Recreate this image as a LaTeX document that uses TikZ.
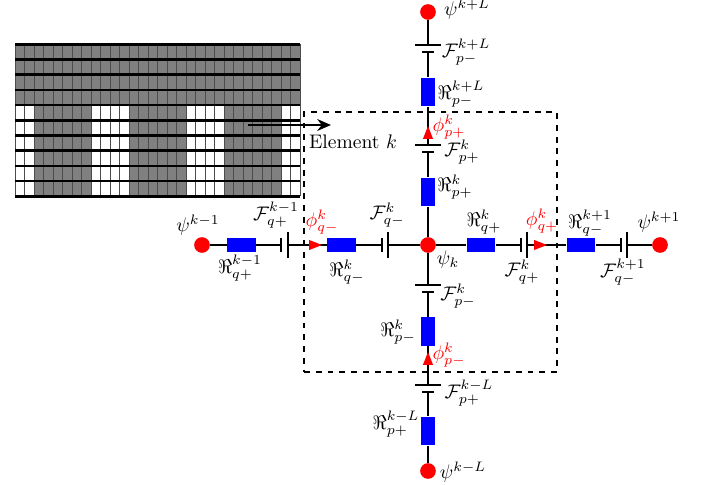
\documentclass[tikz,border=0pt]{standalone}
\usepackage{amsmath}
\usepackage{tikz}
\usetikzlibrary{arrows.meta,shapes.geometric}

\begin{document}
\begin{tikzpicture}[x=0.51pt, y=-0.51pt, >=stealth, every edge/.style={draw,solid,line width=1pt},
                    dot/.style={circle,fill=red,inner sep=0pt,minimum size=8pt},
                    reshor/.style={rectangle,fill=blue,inner sep=0pt,minimum width=14.6pt,minimum height=7.6pt},
                    resver/.style={rectangle,fill=blue,inner sep=0pt,minimum width=7.6pt,minimum height=14.6pt},
                    platev/.style={rectangle,fill=black,inner sep=0pt,minimum width=1pt,minimum height=#1},
                    plateh/.style={rectangle,fill=black,inner sep=0pt,minimum height=1pt,minimum width=#1},
                    flux/.style={isosceles triangle,isosceles triangle stretches,fill=red,inner sep=0pt,
                                 minimum height=6.6pt,minimum width=5.2pt,anchor=apex,shape border rotate=#1},
                    tag/.style={inner sep=0pt},
                    redtag/.style={inner sep=0pt,text=red}]

\useasboundingbox (0,0) rectangle (706,485);

% mesh
\fill[black!50] (15,44) rectangle (300,196);
\foreach \col/\num in {0/2,8/4,18/4,28/2} {
  \fill[white] (15+9.5*\col,104.8) rectangle (15+9.5*\col+9.5*\num,196);
}
\foreach \col in {0,...,30} {
  \draw[black!70,line width=0.3pt] (15+9.5*\col,44) -- (15+9.5*\col,196);
}
\foreach \row in {0,...,10} {
  \fill[black] (15,43+15.2*\row) rectangle (300,45.6+15.2*\row);
}

% element
\node[draw,dashed,line width=0.9pt,inner sep=0pt,minimum width=129pt,minimum height=132.6pt] (E) at (430.5,242) {};
\node[tag] (Elabel) at (353,142) {Element $k$};
\coordinate (Astart) at (248,125);
\coordinate (Aend) at (331,125);
\draw[-{Stealth[length=7pt,width=6pt]},line width=1.5pt] (Astart) -- (Aend);

% cells
\node[dot] (C) at (428,245) {};
\node[dot] (N) at (428,12) {};
\node[dot] (S) at (428,471) {};
\node[dot] (W) at (202,245) {};
\node[dot] (O) at (660,245) {};

% resistances
\node[resver] (Rn2) at (428,92) {};
\node[resver] (Rn1) at (428,192) {};
\node[resver] (Rs1) at (428,331.5) {};
\node[resver] (Rs2) at (428,431) {};
\node[reshor] (Rw2) at (241.5,245) {};
\node[reshor] (Rw1) at (341.5,245) {};
\node[reshor] (Re1) at (481,245) {};
\node[reshor] (Re2) at (581,245) {};

% capacitor plates
\node[plateh=13.5pt] (Fn2a) at (428,45) {};
\node[plateh=6pt] (Fn2b) at (428,52) {};
\node[plateh=13.5pt] (Fn1a) at (428,145) {};
\node[plateh=6pt] (Fn1b) at (428,152) {};
\node[plateh=13.5pt] (Fs1a) at (428,285) {};
\node[plateh=6pt] (Fs1b) at (428,292) {};
\node[plateh=13.5pt] (Fs2a) at (428,385) {};
\node[plateh=6pt] (Fs2b) at (428,392) {};
\node[platev=7pt] (Fw2a) at (281,245) {};
\node[platev=13.5pt] (Fw2b) at (288,245) {};
\node[platev=7pt] (Fw1a) at (382,245) {};
\node[platev=13.5pt] (Fw1b) at (388,245) {};
\node[platev=7pt] (Fe1a) at (521,245) {};
\node[platev=13.5pt] (Fe1b) at (527,245) {};
\node[platev=7pt] (Fe2a) at (621,245) {};
\node[platev=13.5pt] (Fe2b) at (627,245) {};

\path
(N) edge (Fn2a)
(Fn2b) edge (Rn2)
(Rn2) edge (Fn1a)
(Fn1b) edge (Rn1)
(Rn1) edge (C)
(C) edge (Fs1a)
(Fs1b) edge (Rs1)
(Rs1) edge (Fs2a)
(Fs2b) edge (Rs2)
(Rs2) edge (S)
(W) edge (Rw2)
(Rw2) edge (Fw2a)
(Fw2b) edge (Rw1)
(Rw1) edge (Fw1a)
(Fw1b) edge (C)
(C) edge (Re1)
(Re1) edge (Fe1a)
(Fe1b) edge (Re2)
(Re2) edge (Fe2a)
(Fe2b) edge (O);

% fluxes
\node[flux=0] (Pw) at (323,245) {};
\node[flux=0] (Pe) at (548,245) {};
\node[flux=90] (Pn) at (428,125) {};
\node[flux=90] (Ps) at (428,351) {};

% labels
\node[tag] (Ln) at (467,9) {$\psi^{k+L}$};
\node[tag] (Ls) at (463,472) {$\psi^{k-L}$};
\node[tag] (Lw) at (198,225) {$\psi^{k-1}$};
\node[tag] (Lo) at (659,222) {$\psi^{k+1}$};
\node[tag] (Lc) at (448,260) {$\psi_k$};

\node[tag] (LFn2) at (466,52) {$\mathcal{F}_{p-}^{k+L}$};
\node[tag] (LFn1) at (462,152) {$\mathcal{F}_{p+}^{k}$};
\node[tag] (LFs1) at (458,296) {$\mathcal{F}_{p-}^{k}$};
\node[tag] (LFs2) at (469,393) {$\mathcal{F}_{p+}^{k-L}$};
\node[tag] (LFw2) at (276,215) {$\mathcal{F}_{q+}^{k-1}$};
\node[tag] (LFw1) at (387,215) {$\mathcal{F}_{q-}^{k}$};
\node[tag] (LFe1) at (522,272) {$\mathcal{F}_{q+}^{k}$};
\node[tag] (LFe2) at (623,272) {$\mathcal{F}_{q-}^{k+1}$};

\node[tag] (LRn2) at (461,94) {$\Re_{p-}^{k+L}$};
\node[tag] (LRn1) at (455,187) {$\Re_{p+}^{k}$};
\node[tag] (LRs1) at (398,332) {$\Re_{p-}^{k}$};
\node[tag] (LRs2) at (396,424) {$\Re_{p+}^{k-L}$};
\node[tag] (LRw2) at (240,268) {$\Re_{q+}^{k-1}$};
\node[tag] (LRw1) at (347,272) {$\Re_{q-}^{k}$};
\node[tag] (LRe1) at (484,222) {$\Re_{q+}^{k}$};
\node[tag] (LRe2) at (590,223) {$\Re_{q-}^{k+1}$};

\node[redtag] (LPn) at (449,127) {$\phi_{p+}^{k}$};
\node[redtag] (LPs) at (449,355) {$\phi_{p-}^{k}$};
\node[redtag] (LPw) at (322,222) {$\phi_{q-}^{k}$};
\node[redtag] (LPe) at (542,221) {$\phi_{q+}^{k}$};
\end{tikzpicture}
\end{document}
